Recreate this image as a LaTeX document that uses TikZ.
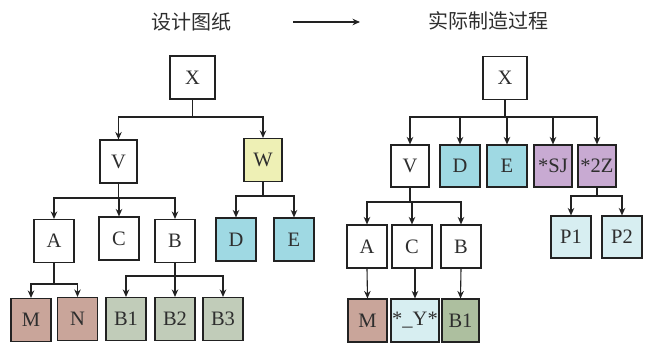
\documentclass[tikz,border=0pt]{standalone}
\usepackage{fontspec}
\setmainfont{Liberation Serif}
\newfontfamily\cjk{Noto Sans CJK SC}
\usetikzlibrary{arrows.meta}
\definecolor{txt}{HTML}{2E2E2E}
\definecolor{ln}{HTML}{222222}
\definecolor{cyelw}{HTML}{EEF0B5}
\definecolor{ccyan}{HTML}{9FD9E3}
\definecolor{cbrown}{HTML}{C9A59A}
\definecolor{cgreen}{HTML}{C1CCB9}
\definecolor{cdgreen}{HTML}{ADBF9F}
\definecolor{cpurp}{HTML}{C8AAD2}
\definecolor{clcyan}{HTML}{D7EEF1}
\tikzset{
  box/.style={draw=ln, line width=1.1pt, fill=white, text=txt, inner sep=0pt,
    minimum width=40pt, minimum height=43pt, font=\fontsize{20.5}{20.5}\selectfont},
  arr/.style={draw=ln, line width=1.1pt, -{Stealth[length=7.5pt,width=6.5pt]}},
  title/.style={text=txt, font=\cjk\fontsize{20}{20}\selectfont}
}
\begin{document}
\begin{tikzpicture}[x=1pt,y=-1pt]
\useasboundingbox (0,0) rectangle (646,343);
% titles
\node[title] (t1) at (191,22) {设计图纸};
\node[title] (t2) at (488,21) {实际制造过程};
\coordinate (a1) at (293,22);
\coordinate (a2) at (360,22);
\draw[arr] (a1) -- (a2);

% ---------- left tree ----------
\node[box, minimum width=45pt] (LX) at (192.5,77.5) {X};
\node[box, minimum width=37pt] (LV) at (118.5,161.5) {V};
\node[box, minimum width=38pt, fill=cyelw] (LW) at (263,160) {W};
\node[box] (LA) at (54,241) {A};
\node[box] (LC) at (119,238.5) {C};
\node[box] (LB) at (175,241) {B};
\node[box, fill=ccyan] (LD) at (236,239.5) {D};
\node[box, fill=ccyan] (LE) at (294,239.5) {E};
\node[box, fill=cbrown] (LM) at (31,320) {M};
\node[box, fill=cbrown] (LN) at (77.5,319) {N};
\node[box, fill=cgreen] (LB1) at (126,319) {B1};
\node[box, fill=cgreen] (LB2) at (175,319) {B2};
\node[box, fill=cgreen] (LB3) at (223,319) {B3};

\coordinate (bLX) at (192.5,117);
\draw[arr] (LX.south) -- (bLX) -| (LV.north);
\draw[arr] (LX.south) -- (bLX) -| (LW.north);
\coordinate (bLV) at (118.5,198);
\draw[arr] (LV.south) -- (bLV) -| (LA.north);
\draw[arr] (LV.south) -- (bLV) -| (LC.north);
\draw[arr] (LV.south) -- (bLV) -| (LB.north);
\coordinate (bLW) at (263,196);
\draw[arr] (LW.south) -- (bLW) -| (LD.north);
\draw[arr] (LW.south) -- (bLW) -| (LE.north);
\coordinate (bLA) at (54,284);
\draw[arr] (LA.south) -- (bLA) -| (LM.north);
\draw[arr] (LA.south) -- (bLA) -| (LN.north);
\coordinate (bLB) at (175,276);
\draw[arr] (LB.south) -- (bLB) -| (LB1.north);
\draw[arr] (LB.south) -- (bLB) -| (LB2.north);
\draw[arr] (LB.south) -- (bLB) -| (LB3.north);

% ---------- right tree ----------
\node[box, minimum width=44pt] (RX) at (505,78) {X};
\node[box, minimum width=38pt, minimum height=42pt] (RV) at (410,166) {V};
\node[box, minimum height=42pt, fill=ccyan] (RD) at (460,166) {D};
\node[box, minimum height=42pt, fill=ccyan] (RE) at (507,166) {E};
\node[box, minimum width=38pt, minimum height=42pt, fill=cpurp] (RSJ) at (553,166) {*SJ};
\node[box, minimum width=38pt, minimum height=42pt, fill=cpurp] (RZ) at (597,166) {*2Z};
\node[box] (RA) at (367,246.5) {A};
\node[box] (RC) at (412,246.5) {C};
\node[box] (RB) at (461,246.5) {B};
\node[box, minimum width=39pt, fill=cbrown] (RM) at (367.5,320.5) {M};
\node[box, minimum width=48pt, fill=clcyan] (RY) at (415,320.5) {*\_Y*};
\node[box, minimum width=37pt, fill=cdgreen] (RB1) at (460.5,320.5) {B1};
\node[box, minimum height=42pt, fill=clcyan] (RP1) at (571,237) {P1};
\node[box, minimum height=42pt, fill=clcyan] (RP2) at (622,237) {P2};

\coordinate (bRX) at (505,117);
\draw[arr] (RX.south) -- (bRX) -| (RV.north);
\draw[arr] (RX.south) -- (bRX) -| (RD.north);
\draw[arr] (RX.south) -- (bRX) -| (RE.north);
\draw[arr] (RX.south) -- (bRX) -| (RSJ.north);
\draw[arr] (RX.south) -- (bRX) -| (RZ.north);
\coordinate (bRV) at (410,202);
\draw[arr] (RV.south) -- (bRV) -| (RA.north);
\draw[arr] (RV.south) -- (bRV) -| (RC.north);
\draw[arr] (RV.south) -- (bRV) -| (RB.north);
\draw[arr] (RA.south) -- (RM.north);
\draw[arr] (RY.north |- RC.south) -- (RY.north);
\draw[arr] (RB.south) -- (RB1.north);
\coordinate (bRZ) at (597,196);
\draw[arr] (RZ.south) -- (bRZ) -| (RP1.north);
\draw[arr] (RZ.south) -- (bRZ) -| (RP2.north);
\end{tikzpicture}
\end{document}
